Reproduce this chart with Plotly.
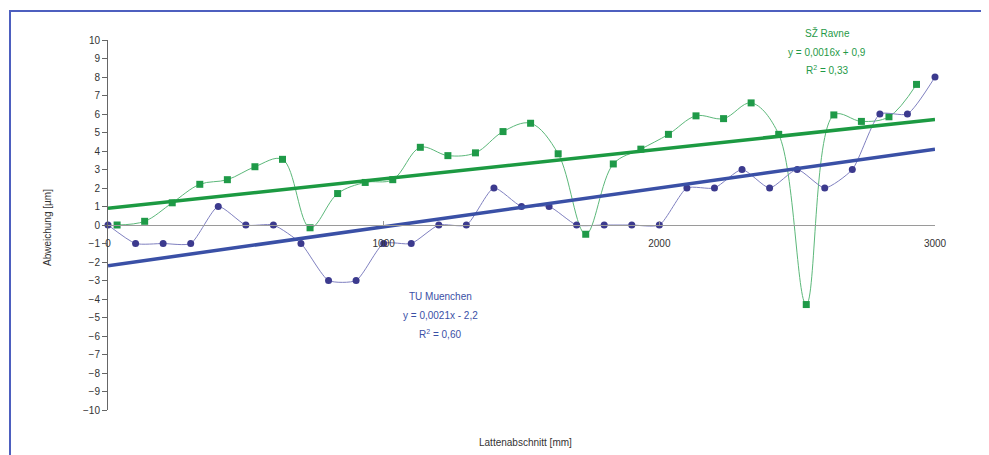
import numpy as np
import plotly.graph_objects as go

# ---- data ----
tu_x = list(range(0, 3001, 100))
tu_y = [0, -1, -1, -1, 1, 0, 0, -1, -3, -3, -1, -1, 0, 0, 2, 1, 1, 0, 0, 0,
        0, 2, 2, 3, 2, 3, 2, 3, 6, 6, 8]

sz_x = [33 + 100 * k for k in range(30)]
sz_y = [0, 0.2, 1.2, 2.2, 2.45, 3.15, 3.55, -0.15, 1.7, 2.3,
        2.45, 4.2, 3.75, 3.9, 5.05, 5.5, 3.85, -0.5, 3.3, 4.1,
        4.9, 5.9, 5.75, 6.6, 4.9, -4.3, 5.95, 5.6, 5.85, 7.6]

# trend line coefficients (slope, intercept) as printed
sz_trend = (0.0016, 0.9)
tu_trend = (0.0021, -2.2)
trend_x = [0, 3000]

y_ticks = list(range(-10, 11))
x_ticks = [0, 1000, 2000, 3000]

GREEN = "#1f9a48"
GREEN_LIGHT = "#5cb87a"
BLUE = "#3c3a8e"
BLUE_LIGHT = "#7f80c0"
GREEN_TREND = "#1c9a42"
BLUE_TREND = "#3a50a6"

# page body has an 8px margin; absolute pixel targets are compensated
OFF = 8
PL, PT, PW, PH = 108, 40, 827, 370   # plot area in window pixels

fig = go.Figure()

fig.add_trace(go.Scatter(
    x=sz_x, y=sz_y, mode="lines+markers",
    line=dict(color=GREEN_LIGHT, width=1, shape="spline", smoothing=1),
    marker=dict(symbol="square", size=7, color=GREEN),
    cliponaxis=False, showlegend=False))

fig.add_trace(go.Scatter(
    x=tu_x, y=tu_y, mode="lines+markers",
    line=dict(color=BLUE_LIGHT, width=1, shape="spline", smoothing=0.6),
    marker=dict(symbol="circle", size=7, color=BLUE),
    cliponaxis=False, showlegend=False))

fig.add_trace(go.Scatter(
    x=trend_x, y=[sz_trend[0] * v + sz_trend[1] for v in trend_x],
    mode="lines", line=dict(color=GREEN_TREND, width=3.5), showlegend=False))

fig.add_trace(go.Scatter(
    x=trend_x, y=[tu_trend[0] * v + tu_trend[1] for v in trend_x],
    mode="lines", line=dict(color=BLUE_TREND, width=3.5), showlegend=False))

FONT = "Liberation Sans, Arial, sans-serif"

W, H = 989 - OFF, 455 - OFF
fig.update_layout(
    width=W, height=H,
    margin=dict(l=PL - OFF, r=W - (PL - OFF) - PW, t=PT - OFF, b=H - (PT - OFF) - PH),
    paper_bgcolor="white", plot_bgcolor="white",
    font=dict(family=FONT, size=10, color="#333333"),
    xaxis=dict(range=[0, 3000], tickvals=x_ticks, ticktext=[str(v) for v in x_ticks],
               anchor="free", position=0.5, showgrid=False, zeroline=False,
               showline=True, linecolor="#9a9a9a", linewidth=1,
               ticks="inside", ticklen=4, tickcolor="#9a9a9a",
               ticklabelstandoff=9,
               tickfont=dict(size=10, color="#333333")),
    yaxis=dict(range=[-10, 10], tickvals=y_ticks, showgrid=False, zeroline=False,
               showline=True, linecolor="#666666", linewidth=1,
               ticks="outside", ticklen=5, tickcolor="#666666",
               tickfont=dict(size=10, color="#333333")),
)

def ann(text, xp, yp, color, size=10, angle=0):
    fig.add_annotation(text=text, x=(xp - PL) / PW, y=(PT + PH - yp) / PH,
                       xref="paper", yref="paper", showarrow=False,
                       font=dict(family=FONT, size=size, color=color),
                       textangle=angle, xanchor="center", yanchor="middle")

ann("SŽ Ravne", 827, 33, GREEN)
ann("y = 0,0016x + 0,9", 827, 52, GREEN)
ann("R<sup>2</sup> = 0,33", 827, 70, GREEN)
ann("TU Muenchen", 440, 296, BLUE_TREND)
ann("y = 0,0021x - 2,2", 440, 315, BLUE_TREND)
ann("R<sup>2</sup> = 0,60", 440, 334, BLUE_TREND)
ann("Abweichung [µm]", 48, 227, "#333333", angle=-90)
ann("Lattenabschnitt [mm]", 525, 442, "#333333")

# frame
fig.add_shape(type="rect", xref="paper", yref="paper",
              x0=(10 - PL) / PW, x1=(1010 - PL) / PW,
              y0=(PT + PH - 480) / PH, y1=(PT + PH - 11) / PH,
              line=dict(color="#4d5fbf", width=2), layer="below")

fig.write_html("out.html")
